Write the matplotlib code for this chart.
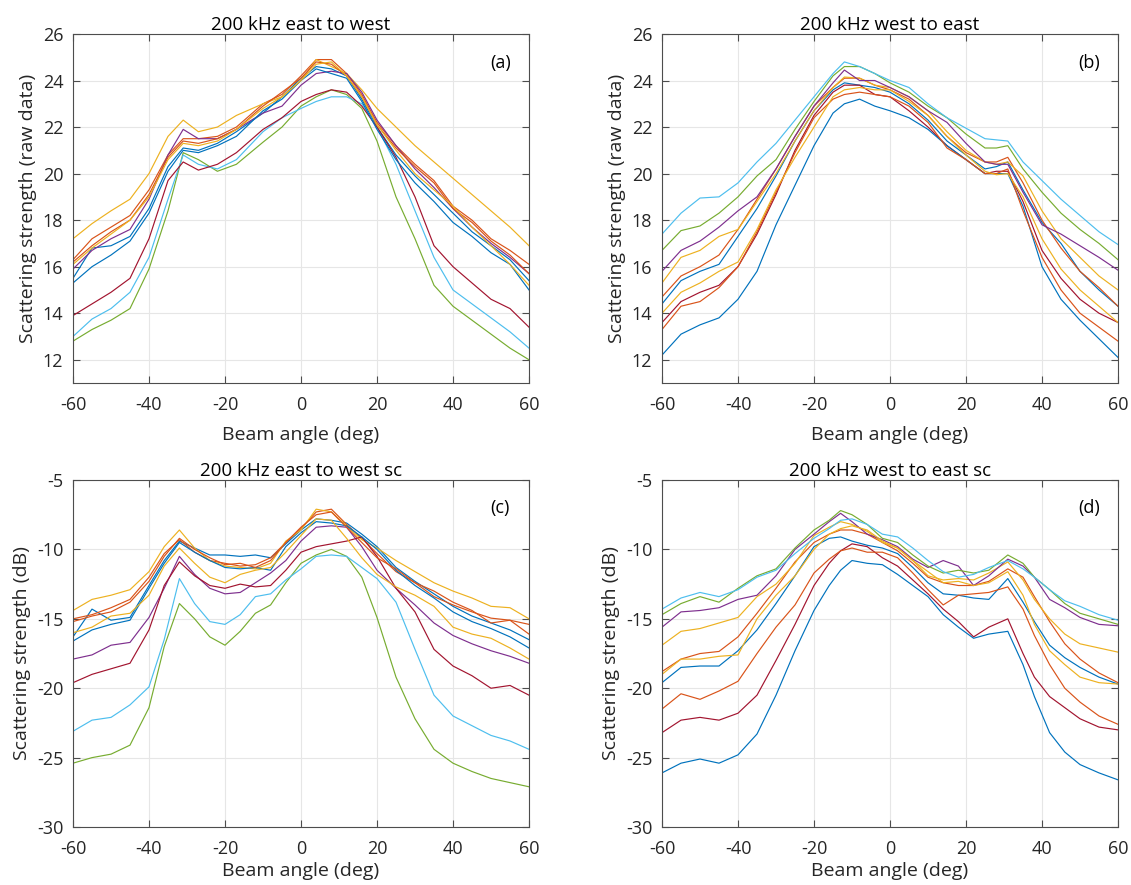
import matplotlib
matplotlib.use("Agg")
import matplotlib.pyplot as plt

plt.rcParams['font.family'] = ['Open Sans', 'DejaVu Sans']
plt.rcParams['axes.unicode_minus'] = False

# MATLAB default line colour order
COLORS = ['#0072BD', '#D95319', '#EDB120', '#7E2F8E', '#77AC30', '#4DBEEE', '#A2142F']

# ---- (a) 200 kHz east to west, raw data ----
angle_a = [-60, -55, -50, -45, -40, -35, -31, -27, -22, -17, -10, -5, 0, 4, 8, 12, 16, 20, 25, 30, 35, 40, 45, 50, 55, 60]
a_blue1 = [15.5, 16.8, 16.9, 17.3, 18.5, 20.3, 21.1, 21.0, 21.3, 21.8, 22.6, 23.3, 24.1, 24.6, 24.5, 24.2, 23.2, 22.0, 20.8, 19.9, 19.1, 18.3, 17.5, 16.9, 16.3, 15.4]
a_orange1 = [16.3, 17.2, 17.7, 18.2, 19.3, 20.8, 21.5, 21.5, 21.6, 22.0, 23.0, 23.4, 24.2, 24.9, 24.9, 24.3, 23.4, 22.2, 21.2, 20.4, 19.7, 18.6, 18.0, 17.2, 16.7, 16.1]
a_yellow1 = [17.2, 17.85, 18.4, 18.9, 20.0, 21.6, 22.3, 21.8, 22.0, 22.5, 23.0, 23.3, 24.0, 24.9, 24.6, 24.3, 23.6, 22.8, 22.0, 21.2, 20.5, 19.8, 19.1, 18.4, 17.7, 16.9]
a_purple = [15.9, 16.7, 17.2, 17.6, 18.9, 20.8, 21.9, 21.5, 21.5, 21.9, 22.6, 22.9, 23.8, 24.3, 24.4, 24.3, 23.5, 22.3, 21.2, 20.2, 19.4, 18.5, 17.7, 17.0, 16.4, 15.7]
a_green = [12.8, 13.3, 13.7, 14.2, 15.9, 18.4, 20.9, 20.6, 20.1, 20.4, 21.35, 22.0, 22.9, 23.3, 23.6, 23.4, 22.8, 21.4, 19.0, 17.2, 15.2, 14.3, 13.7, 13.1, 12.5, 12.0]
a_cyan = [13.0, 13.75, 14.2, 14.9, 16.4, 18.9, 20.8, 20.4, 20.2, 20.6, 21.8, 22.4, 22.8, 23.1, 23.3, 23.3, 23.0, 22.0, 20.4, 18.4, 16.4, 15.0, 14.4, 13.8, 13.2, 12.5]
a_darkred = [13.9, 14.4, 14.9, 15.5, 17.2, 19.7, 20.5, 20.15, 20.4, 20.9, 21.9, 22.4, 23.1, 23.4, 23.6, 23.5, 22.9, 22.0, 20.7, 19.0, 16.9, 16.0, 15.3, 14.6, 14.2, 13.4]
a_blue2 = [15.3, 16.0, 16.5, 17.1, 18.3, 20.1, 21.0, 20.9, 21.2, 21.6, 22.7, 23.2, 24.0, 24.5, 24.3, 24.1, 23.1, 21.9, 20.6, 19.6, 18.8, 17.9, 17.3, 16.6, 16.1, 15.0]
a_orange2 = [16.2, 16.9, 17.5, 18.0, 19.1, 20.7, 21.4, 21.3, 21.5, 21.9, 22.9, 23.5, 24.1, 24.8, 24.7, 24.2, 23.3, 22.1, 21.1, 20.3, 19.6, 18.5, 17.9, 17.1, 16.5, 15.7]
a_yellow2 = [16.1, 16.8, 17.4, 18.0, 19.0, 20.6, 21.3, 21.2, 21.4, 21.9, 22.8, 23.3, 24.0, 24.7, 24.8, 24.2, 23.3, 22.1, 21.0, 20.0, 19.3, 18.6, 17.7, 16.9, 16.1, 15.2]

# ---- (b) 200 kHz west to east, raw data ----
angle_b = [-60, -55, -50, -45, -40, -35, -30, -25, -20, -15, -12, -8, -4, 0, 5, 10, 15, 20, 25, 28, 31, 35, 40, 45, 50, 55, 60]
b_blue1 = [14.4, 15.4, 15.8, 16.1, 17.3, 18.5, 19.9, 21.4, 22.7, 23.6, 23.9, 23.8, 23.7, 23.5, 23.0, 22.3, 21.4, 20.8, 20.2, 20.3, 20.5, 19.3, 17.9, 17.0, 15.8, 15.0, 14.3]
b_orange1 = [14.7, 15.6, 16.0, 16.5, 17.6, 18.9, 20.2, 21.6, 22.9, 23.7, 24.1, 24.1, 23.8, 23.6, 23.2, 22.5, 21.6, 20.9, 20.5, 20.5, 20.7, 19.6, 18.0, 16.8, 15.8, 15.1, 14.3]
b_yellow1 = [15.3, 16.4, 16.7, 17.3, 17.6, 18.8, 20.0, 21.4, 22.7, 23.7, 24.15, 24.1, 23.8, 23.7, 23.3, 22.7, 21.8, 21.0, 20.5, 20.4, 20.5, 19.9, 18.4, 17.2, 16.4, 15.6, 15.0]
b_purple = [15.8, 16.7, 17.1, 17.7, 18.4, 19.0, 20.2, 21.6, 22.9, 23.9, 24.45, 24.0, 24.0, 23.7, 23.3, 22.7, 22.2, 21.3, 20.5, 20.4, 20.4, 19.2, 17.8, 17.4, 16.9, 16.4, 15.85]
b_green = [16.7, 17.55, 17.75, 18.3, 19.0, 19.9, 20.6, 21.9, 23.1, 24.2, 24.6, 24.6, 24.3, 23.9, 23.5, 22.9, 22.4, 21.7, 21.1, 21.1, 21.2, 20.2, 19.2, 18.3, 17.6, 17.0, 16.3]
b_cyan = [17.4, 18.3, 18.95, 19.0, 19.6, 20.5, 21.3, 22.3, 23.3, 24.3, 24.8, 24.6, 24.3, 24.0, 23.7, 23.0, 22.4, 21.95, 21.5, 21.45, 21.4, 20.5, 19.7, 18.9, 18.2, 17.5, 16.95]
b_darkred = [13.6, 14.5, 14.9, 15.2, 16.0, 17.4, 19.1, 21.0, 22.5, 23.5, 23.8, 23.8, 23.4, 23.3, 22.7, 22.0, 21.2, 20.6, 20.0, 20.1, 20.1, 18.8, 16.7, 15.5, 14.6, 14.0, 13.6]
b_blue2 = [12.2, 13.1, 13.5, 13.8, 14.6, 15.8, 17.8, 19.5, 21.2, 22.6, 23.0, 23.2, 22.9, 22.7, 22.4, 21.9, 21.2, 20.6, 20.0, 20.0, 20.0, 18.6, 16.0, 14.6, 13.7, 12.9, 12.1]
b_orange2 = [13.3, 14.3, 14.5, 15.1, 16.0, 17.5, 19.2, 20.9, 22.4, 23.2, 23.4, 23.5, 23.4, 23.3, 22.9, 22.2, 21.1, 20.6, 20.0, 20.0, 20.2, 18.4, 16.4, 15.0, 14.0, 13.4, 12.8]
b_yellow2 = [14.0, 14.9, 15.3, 15.8, 16.2, 17.6, 19.3, 20.7, 22.0, 23.3, 23.6, 23.7, 23.6, 23.6, 23.1, 22.5, 21.6, 20.8, 20.1, 19.95, 20.0, 19.0, 17.2, 15.9, 15.0, 14.3, 13.6]

# ---- (c) 200 kHz east to west sc ----
angle_c = [-60, -55, -50, -45, -40, -36, -32, -28, -24, -20, -16, -12, -8, -4, 0, 4, 8, 12, 16, 20, 25, 30, 35, 40, 45, 50, 55, 60]
c_blue1 = [-16.3, -14.3, -15.1, -14.9, -12.6, -10.8, -9.4, -9.9, -10.4, -10.4, -10.5, -10.4, -10.6, -9.6, -8.6, -7.8, -7.9, -8.1, -8.9, -9.8, -11.3, -12.3, -13.2, -14.1, -14.8, -15.3, -15.8, -16.5]
c_orange1 = [-15.0, -14.7, -14.2, -13.6, -12.0, -10.3, -9.3, -10.2, -10.8, -11.0, -11.2, -11.1, -10.6, -9.5, -8.5, -7.3, -7.1, -8.2, -9.2, -10.3, -11.6, -12.4, -13.4, -14.0, -14.5, -14.95, -15.1, -15.4]
c_yellow1 = [-14.4, -13.6, -13.3, -12.9, -11.6, -9.8, -8.6, -9.9, -10.8, -11.2, -11.3, -11.4, -11.0, -9.4, -8.6, -7.1, -7.3, -8.3, -9.3, -9.9, -10.8, -11.6, -12.4, -13.0, -13.5, -14.1, -14.2, -15.0]
c_purple = [-17.9, -17.6, -16.9, -16.7, -14.9, -12.8, -10.5, -11.8, -12.8, -13.2, -13.1, -12.4, -11.7, -10.8, -9.4, -8.4, -8.3, -8.4, -9.8, -11.5, -12.8, -14.0, -15.3, -16.2, -16.8, -17.3, -17.7, -18.2]
c_green = [-25.4, -25.0, -24.75, -24.1, -21.4, -17.0, -13.9, -15.0, -16.3, -16.9, -15.9, -14.6, -14.0, -12.4, -11.0, -10.4, -10.0, -10.5, -12.0, -14.9, -19.2, -22.2, -24.4, -25.4, -26.0, -26.5, -26.8, -27.1]
c_cyan = [-23.1, -22.3, -22.1, -21.2, -19.9, -16.5, -12.1, -13.9, -15.2, -15.4, -14.7, -13.4, -13.2, -12.2, -11.4, -10.5, -10.4, -10.5, -11.3, -12.1, -13.8, -17.2, -20.5, -22.0, -22.7, -23.4, -23.8, -24.4]
c_darkred = [-19.6, -19.0, -18.6, -18.2, -15.8, -12.6, -10.9, -11.9, -12.6, -12.8, -12.5, -12.7, -12.6, -11.5, -10.2, -9.8, -9.6, -9.4, -9.1, -10.5, -12.8, -14.5, -17.2, -18.4, -19.1, -20.0, -19.8, -20.5]
c_blue2 = [-16.6, -15.8, -15.4, -15.1, -12.8, -11.0, -9.5, -10.2, -10.8, -11.3, -11.4, -11.3, -11.5, -9.8, -8.8, -8.0, -8.1, -8.3, -9.1, -10.0, -11.5, -12.6, -13.5, -14.5, -15.2, -15.7, -16.3, -17.1]
c_orange2 = [-15.2, -14.8, -14.5, -13.8, -12.3, -10.5, -9.2, -10.0, -10.6, -11.1, -11.0, -11.3, -10.8, -9.5, -8.4, -7.5, -7.3, -8.4, -9.5, -10.6, -11.4, -12.4, -13.0, -13.8, -14.4, -15.3, -15.1, -16.1]
c_yellow2 = [-16.0, -15.6, -14.8, -14.6, -13.3, -11.2, -9.9, -11.0, -12.0, -12.4, -11.8, -11.5, -11.3, -10.2, -9.0, -7.8, -7.9, -9.2, -10.6, -11.8, -12.7, -13.3, -14.1, -15.6, -16.1, -16.4, -17.1, -17.9]

# ---- (d) 200 kHz west to east sc ----
angle_d = [-60, -55, -50, -45, -40, -35, -30, -25, -20, -16, -13, -10, -6, -2, 2, 6, 10, 14, 18, 22, 26, 31, 35, 38, 42, 46, 50, 55, 60]
d_blue1 = [-19.6, -18.5, -18.4, -18.4, -17.3, -15.8, -13.9, -11.9, -9.8, -9.2, -9.1, -9.4, -9.7, -9.9, -10.3, -11.3, -12.4, -13.2, -13.3, -13.5, -13.6, -12.1, -13.8, -15.2, -16.9, -17.8, -18.5, -19.2, -19.7]
d_orange1 = [-18.8, -17.9, -17.5, -17.35, -16.3, -14.6, -12.8, -10.9, -9.5, -8.9, -8.6, -8.6, -8.9, -9.5, -10.1, -11.0, -12.0, -12.4, -12.6, -12.6, -12.3, -11.4, -12.0, -13.4, -15.2, -16.8, -17.9, -18.9, -19.6]
d_yellow1 = [-16.9, -15.9, -15.7, -15.3, -14.9, -13.4, -12.5, -11.0, -9.0, -8.4, -8.0, -8.2, -8.7, -9.5, -9.9, -10.8, -11.9, -12.2, -12.1, -12.2, -11.7, -10.9, -12.2, -13.6, -15.0, -16.1, -16.8, -17.1, -17.4]
d_purple = [-15.6, -14.5, -14.4, -14.2, -13.6, -13.3, -11.9, -10.0, -8.9, -8.0, -7.4, -8.0, -8.9, -9.3, -9.8, -10.7, -11.3, -10.8, -11.2, -12.6, -11.9, -10.7, -11.2, -12.0, -13.6, -14.2, -14.9, -15.4, -15.5]
d_green = [-14.7, -13.9, -13.4, -13.8, -12.8, -11.9, -11.4, -9.9, -8.6, -7.9, -7.2, -7.5, -8.2, -9.2, -9.5, -10.4, -11.2, -11.7, -11.5, -11.7, -11.5, -10.4, -11.0, -12.0, -12.9, -13.9, -14.6, -15.0, -15.4]
d_cyan = [-14.3, -13.5, -13.1, -13.4, -12.9, -12.0, -11.5, -10.3, -9.2, -8.5, -7.9, -7.8, -8.2, -8.9, -9.1, -9.9, -10.8, -11.6, -12.0, -11.8, -11.3, -10.8, -11.4, -12.0, -12.9, -13.7, -14.1, -14.7, -15.1]
d_darkred = [-23.2, -22.3, -22.1, -22.3, -21.8, -20.5, -18.0, -15.4, -12.6, -11.0, -10.1, -9.6, -9.8, -10.6, -11.2, -12.2, -13.2, -14.3, -15.2, -16.3, -15.6, -15.0, -17.5, -19.2, -20.6, -21.4, -22.2, -22.8, -23.0]
d_blue2 = [-26.1, -25.4, -25.1, -25.4, -24.8, -23.3, -20.5, -17.3, -14.4, -12.6, -11.5, -10.8, -11.0, -11.1, -11.8, -12.6, -13.4, -14.7, -15.6, -16.4, -16.1, -15.9, -18.3, -20.6, -23.2, -24.6, -25.5, -26.1, -26.6]
d_orange2 = [-21.5, -20.4, -20.8, -20.2, -19.5, -17.5, -15.6, -14.0, -11.7, -10.7, -10.1, -9.9, -10.2, -10.2, -10.6, -11.7, -12.9, -14.0, -13.3, -13.2, -13.1, -12.7, -14.3, -16.2, -18.3, -20.0, -21.0, -22.0, -22.6]
d_yellow2 = [-19.0, -17.9, -17.9, -17.7, -17.6, -15.0, -13.3, -11.9, -10.0, -8.9, -8.5, -8.3, -8.6, -9.4, -9.9, -10.8, -11.6, -12.4, -12.3, -12.6, -12.4, -11.6, -13.3, -15.4, -17.3, -18.3, -19.2, -19.6, -19.7]

RAW_TICKS = [12, 14, 16, 18, 20, 22, 24, 26]
SC_TICKS = [-30, -25, -20, -15, -10, -5]
X_TICKS = [-60, -40, -20, 0, 20, 40, 60]

LEFT, RIGHT = 73 / 1131, 662 / 1131
WIDTH = 456 / 1131


def style_axes(ax, title, ylabel, ylim, yticks, tag, xpad):
    ax.set_xlim(-60, 60)
    ax.set_ylim(*ylim)
    ax.set_xticks(X_TICKS)
    ax.set_yticks(yticks)
    ax.grid(True, color="#e6e6e6", linewidth=0.8)
    ax.set_axisbelow(True)
    ax.tick_params(direction="in", top=True, right=True, length=5, width=0.8,
                   color="#4d4d4d", labelsize=13, labelcolor="#262626")
    ax.tick_params(axis="x", pad=9)
    ax.tick_params(axis="y", pad=7)
    for s in ax.spines.values():
        s.set_color("#4d4d4d")
        s.set_linewidth(0.8)
    ax.set_title(title, fontsize=13.5, pad=3)
    ax.set_xlabel("Beam angle (deg)", fontsize=14, color="#262626", labelpad=xpad)
    ax.set_ylabel(ylabel, fontsize=14, color="#262626")
    ax.text(0.937, 0.918, tag, transform=ax.transAxes, ha="center", va="center",
            fontsize=13)


def draw(ax, angle, series):
    for i, y in enumerate(series):
        ax.plot(angle, y, color=COLORS[i % len(COLORS)], linewidth=0.85)


fig = plt.figure(figsize=(11.31, 8.85), dpi=100)

# bottom-row x labels sit just inside the lower edge of the figure
panels = [
    ([LEFT, 0.5672, WIDTH, 0.3944], angle_a,
     [a_blue1, a_orange1, a_yellow1, a_purple, a_green, a_cyan, a_darkred, a_blue2, a_orange2, a_yellow2],
     "200 kHz east to west", "Scattering strength (raw data)", (11, 26), RAW_TICKS, "(a)", 9),
    ([RIGHT, 0.5672, WIDTH, 0.3944], angle_b,
     [b_blue1, b_orange1, b_yellow1, b_purple, b_green, b_cyan, b_darkred, b_blue2, b_orange2, b_yellow2],
     "200 kHz west to east", "Scattering strength (raw data)", (11, 26), RAW_TICKS, "(b)", 9),
    ([LEFT, 0.0655, WIDTH, 0.3921], angle_c,
     [c_blue1, c_orange1, c_yellow1, c_purple, c_green, c_cyan, c_darkred, c_blue2, c_orange2, c_yellow2],
     "200 kHz east to west sc", "Scattering strength (dB)", (-30, -5), SC_TICKS, "(c)", 3),
    ([RIGHT, 0.0655, WIDTH, 0.3921], angle_d,
     [d_blue1, d_orange1, d_yellow1, d_purple, d_green, d_cyan, d_darkred, d_blue2, d_orange2, d_yellow2],
     "200 kHz west to east sc", "Scattering strength (dB)", (-30, -5), SC_TICKS, "(d)", 3),
]

for rect, angle, series, title, ylabel, ylim, yticks, tag, xpad in panels:
    ax = fig.add_axes(rect)
    draw(ax, angle, series)
    style_axes(ax, title, ylabel, ylim, yticks, tag, xpad)

fig.savefig("out.png", dpi=100)
